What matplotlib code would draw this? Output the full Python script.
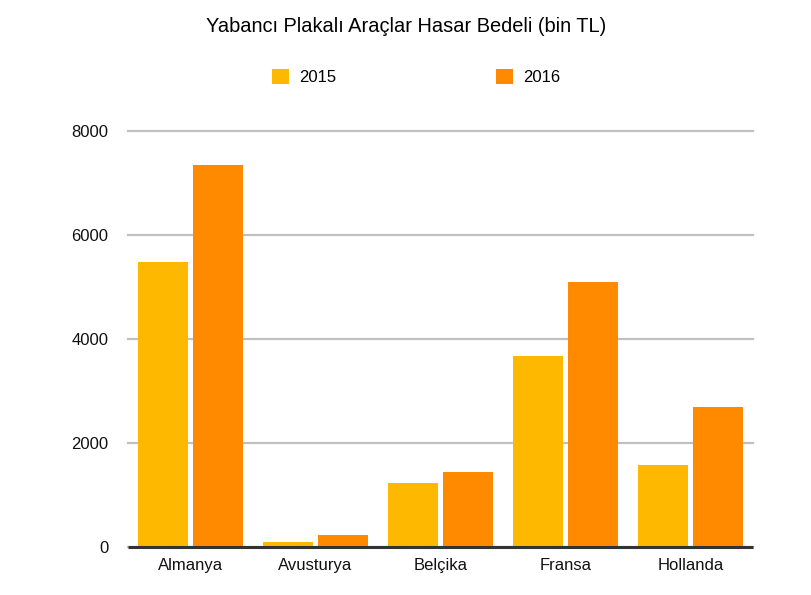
import matplotlib
matplotlib.use("Agg")
import matplotlib.pyplot as plt
import numpy as np

plt.rcParams['font.family'] = ['Liberation Sans', 'DejaVu Sans']

categories = ["Almanya", "Avusturya", "Belçika", "Fransa", "Hollanda"]
series_names = ["2015", "2016"]
values_2015 = [5475, 90, 1230, 3670, 1575]
values_2016 = [7345, 225, 1440, 5095, 2690]
yticks = [0, 2000, 4000, 6000, 8000]
colors = ["#FFB800", "#FF8A00"]

fig = plt.figure(figsize=(8.12, 5.95), dpi=100)
ax = fig.add_axes([128/812, 1-547/595, (753-128)/812, (547-131)/595])

x = np.arange(len(categories))
w = 0.4
off = 0.22
ax.bar(x - off, values_2015, width=w, color=colors[0], label=series_names[0], zorder=2)
ax.bar(x + off, values_2016, width=w, color=colors[1], label=series_names[1], zorder=2)

ax.set_xlim(-0.5, len(categories) - 0.5)
ax.set_ylim(0, 8000)
ax.set_yticks(yticks)
ax.set_yticklabels([str(t) for t in yticks])
ax.set_xticks(x)
ax.set_xticklabels(categories)
ax.tick_params(axis='both', length=0, labelsize=12, colors='#111111')
ax.tick_params(axis='y', pad=14)
ax.tick_params(axis='x', pad=8)

ax.grid(axis='y', color='#C0C0C0', linewidth=1.6, zorder=0)
for gl in ax.get_ygridlines():
    gl.set_clip_on(False)
for s in ['top', 'right', 'left']:
    ax.spines[s].set_visible(False)
ax.spines['bottom'].set_color('#333333')
ax.spines['bottom'].set_linewidth(2.2)
ax.spines['bottom'].set_capstyle('butt')
ax.spines['bottom'].set_zorder(3)

fig.text(0.5, 1-27/595, "Yabancı Plakalı Araçlar Hasar Bedeli (bin TL)",
         ha='center', va='center', fontsize=14.4, color='#000000')

leg = fig.legend(loc='center', bbox_to_anchor=(416/812, 1-77/595), ncol=2,
                 frameon=False, fontsize=12, handlelength=1.0, handleheight=1.0,
                 handletextpad=0.6, columnspacing=9.6)

fig.savefig("out.png", dpi=100)
